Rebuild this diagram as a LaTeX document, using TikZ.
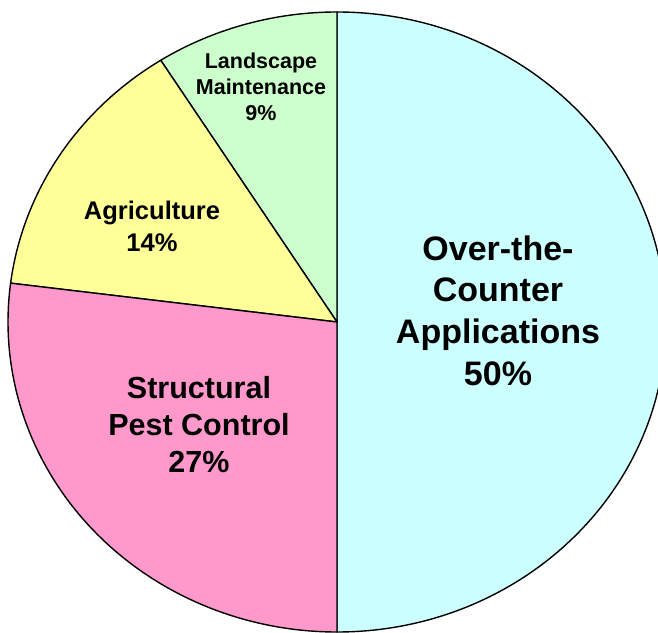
\documentclass[tikz,border=0pt]{standalone}
\usepackage{fontspec}
\setmainfont{Liberation Sans}
\usetikzlibrary{calc}
\definecolor{otcblue}{HTML}{CCFFFF}
\definecolor{pestpink}{HTML}{FF99CC}
\definecolor{agriyellow}{HTML}{FFFF99}
\definecolor{landgreen}{HTML}{CCFFCC}
\tikzset{
	slice/.style = {draw=black, line width=1.4pt, line join=round},
	lab/.style = {align=center, inner sep=0pt, font=\bfseries}
}
\begin{document}
\begin{tikzpicture}[x=1pt, y=1pt]
	\useasboundingbox (0,0) rectangle (658,632);
	\clip (0,0) rectangle (658,632);
	\coordinate (O) at (337,310);
	%%%	Fette
	\draw [slice, fill=otcblue] (O) -- +(-90:329 and 310) arc [start angle=-90, end angle=90, x radius=329, y radius=310] -- cycle;
	\draw [slice, fill=landgreen] (O) -- +(90:329 and 310) arc [start angle=90, end angle=122.4, x radius=329, y radius=310] -- cycle;
	\draw [slice, fill=agriyellow] (O) -- +(122.4:329 and 310) arc [start angle=122.4, end angle=172.8, x radius=329, y radius=310] -- cycle;
	\draw [slice, fill=pestpink] (O) -- +(172.8:329 and 310) arc [start angle=172.8, end angle=270, x radius=329, y radius=310] -- cycle;
	% Etichette
	\node [lab, font=\fontsize{34}{41.7}\selectfont\bfseries] (otc) at (498,321.5) {Over-the-\\Counter\\Applications\\50\%};
	\node [lab, font=\fontsize{30.5}{37}\selectfont\bfseries] (pest) at (199,207) {Structural\\Pest Control\\27\%};
	\node [lab, font=\fontsize{25.5}{32}\selectfont\bfseries] (agri) at (152,406) {Agriculture\\14\%};
	\node [lab, font=\fontsize{21.5}{26}\selectfont\bfseries] (land) at (261,545) {Landscape\\Maintenance\\9\%};
\end{tikzpicture}
\end{document}
